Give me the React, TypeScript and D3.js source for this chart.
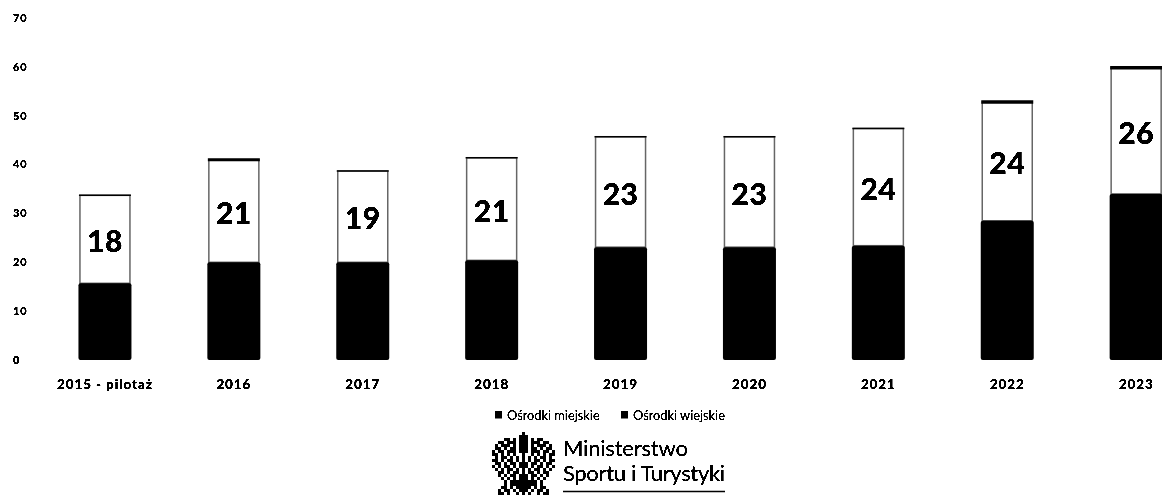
import React from "react";
import * as d3 from "d3";

const categories = ["2015 - pilotaż", "2016", "2017", "2018", "2019", "2020", "2021", "2022", "2023"];
const urban = [15.7, 20, 20, 20.4, 23.1, 23.1, 23.4, 28.5, 34];
const rural = [18, 21, 18.7, 21, 22.6, 22.6, 24, 24.3, 25.8];
const yTicks = [0, 10, 20, 30, 40, 50, 60, 70];
const legendLabels = ["Ośrodki miejskie", "Ośrodki wiejskie"];
const logoLines = ["Ministerstwo", "Sportu i Turystyki"];
// coarse bitmap of the eagle emblem (half, mirrored at draw time)
const eagleHalf = [
  "..........#",
  ".........##",
  "....##.#.##",
  "..##.###.##",
  ".#.###.#.##",
  ".##.#.##.##",
  "#.##.###.##",
  "##.#.#.#..#",
  ".#.##.#.#.#",
  "##.#.##.#.#",
  ".##.#.##.##",
  "#.#.##.#.##",
  ".#.#.##.#.#",
  "..##.#.##.#",
  "..#.#.##.##",
  "...#.#.#.##",
  "....#.#####",
  "....#.#####",
  "...##.#.###",
  "..#.##.#.##",
  "..##.#..#.#",
];
const eagleCell = 3;

const width = 1162;
const height = 496;

export default function App() {
  const x = d3.scaleBand<string>().domain(categories).range([40.5, 1200.6]).paddingInner(0).paddingOuter(0);
  const y = d3.scaleLinear().domain([0, 70]).range([360, 18]);
  const barW = 50;
  const eagleX = d3.scaleBand<number>().domain(d3.range(21)).range([0, 21 * eagleCell]);
  const eagleY = d3.scaleBand<number>().domain(d3.range(eagleHalf.length)).range([0, eagleHalf.length * eagleCell]);
  return (
    <svg width={width} height={height} style={{ position: "fixed", left: 0, top: 0, background: "#fff" }}>
      <defs>
        <filter id="thr" x="-5%" y="-20%" width="110%" height="140%" colorInterpolationFilters="sRGB">
          <feGaussianBlur stdDeviation="0.45" />
          <feComponentTransfer>
            <feFuncA type="linear" slope="5" intercept="-1.2" />
          </feComponentTransfer>
        </filter>
      </defs>
      <g fontFamily="Lato, sans-serif" fontWeight={900} fill="#000">
        <g filter="url(#thr)" fontSize={11}>
          {yTicks.map((t) => (
            <text key={t} x={13} y={y(t)} dy="0.35em" textAnchor="start" letterSpacing={0.8}>
              {t}
            </text>
          ))}
        </g>
        {categories.map((c, i) => {
          const cx = x(c)! + x.bandwidth() / 2;
          const y0 = y(0);
          const y1 = y(urban[i]);
          const y2 = y(urban[i] + rural[i]);
          return (
            <g key={c}>
              <rect x={cx - barW / 2} y={y2} width={barW} height={y1 - y2} fill="#fff" stroke="#666" strokeWidth={1.5} />
              <line x1={cx - barW / 2 - 1} x2={cx + barW / 2 + 1} y1={y2} y2={y2} stroke="#000" strokeWidth={i === 1 ? 3 : i >= 7 ? 3.5 : 1.5} />
              <rect x={cx - barW / 2 - 1.5} y={y1} width={barW + 3} height={y0 - y1} rx={2} fill="#000" />
              <text x={cx} y={(y1 + y2) / 2 + 2} dy="0.36em" textAnchor="middle" fontWeight={900} filter="url(#thr)" style={{ fontSize: 30 }} letterSpacing={0.5}>
                {Math.round(rural[i])}
              </text>
              <text x={cx} y={389} textAnchor="middle" fontSize={13.5} letterSpacing={0.9} filter="url(#thr)">
                {c}
              </text>
            </g>
          );
        })}
      </g>
      <g fontFamily="Lato, sans-serif" fontSize={12.8} fill="#000">
        <rect x={495} y={411} width={7} height={7.5} />
        <text x={507} y={419.5} filter="url(#thr)">{legendLabels[0]}</text>
        <rect x={621} y={411} width={7} height={7.5} />
        <text x={633} y={419.5} filter="url(#thr)">{legendLabels[1]}</text>
      </g>
      <g transform="translate(492,432)" fill="#000">
        {eagleHalf.map((row, r) =>
          d3.range(21).map((col) => {
            const k = col <= 10 ? col : 20 - col;
            return row[k] === "#" ? (
              <rect key={`${r}-${col}`} x={eagleX(col)} y={eagleY(r)} width={eagleCell} height={eagleCell} />
            ) : null;
          })
        )}
      </g>
      <g fontFamily="Lato, sans-serif" fontWeight={400} fontSize={22} fill="#000" filter="url(#thr)">
        <text x={563} y={456} textLength={125}>{logoLines[0]}</text>
        <text x={563} y={481} textLength={162}>{logoLines[1]}</text>
      </g>
      <line x1={563} x2={725} y1={491.5} y2={491.5} stroke="#000" strokeWidth={1.5} />
    </svg>
  );
}
